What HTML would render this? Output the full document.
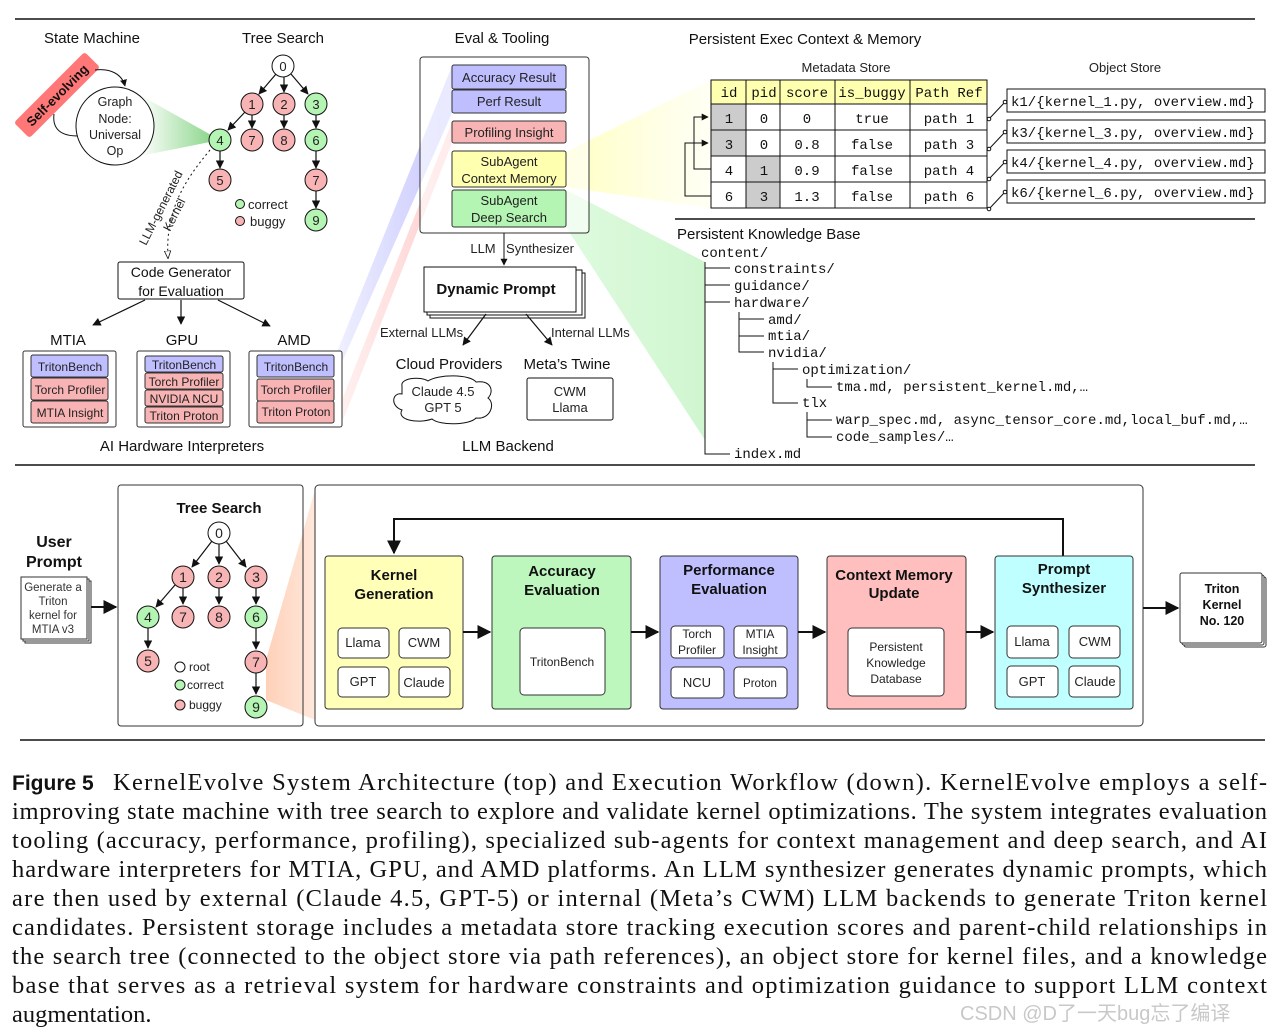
<!DOCTYPE html>
<html><head><meta charset="utf-8"><style>
html,body{margin:0;padding:0;background:#fff;width:1283px;height:1032px;overflow:hidden}
svg{display:block}
.s{font-family:"Liberation Sans",sans-serif}
.m{font-family:"Liberation Mono",monospace}
.c{font-family:"Liberation Serif",serif;font-size:24.5px;fill:#111}
</style></head><body>
<svg width="1283" height="1032" viewBox="0 0 1283 1032" xmlns="http://www.w3.org/2000/svg">
<defs>
<marker id="a" viewBox="0 0 10 10" refX="9" refY="5" markerWidth="7" markerHeight="7" orient="auto"><path d="M0,0L10,5L0,10z" fill="#111"/></marker>
<marker id="ao" viewBox="0 0 10 10" refX="9" refY="5" markerWidth="8" markerHeight="8" orient="auto"><path d="M0,1L10,5L0,9z" fill="#fff" stroke="#111"/></marker>
<linearGradient id="gg" x1="0" x2="1"><stop offset="0" stop-color="#fff"/><stop offset="1" stop-color="#5fc65f"/></linearGradient>
<linearGradient id="gy" x1="0" x2="1"><stop offset="0" stop-color="#ffff99"/><stop offset="1" stop-color="#ffffe0" stop-opacity=".6"/></linearGradient>
<linearGradient id="gG" x1="0" x2="1"><stop offset="0" stop-color="#c8f7c8"/><stop offset="1" stop-color="#b0f0b0"/></linearGradient>
<linearGradient id="gb" x1="1" x2="0"><stop offset="0" stop-color="#c0c0ff"/><stop offset="1" stop-color="#eef" /></linearGradient>
<linearGradient id="gr" x1="1" x2="0"><stop offset="0" stop-color="#ffc8c8"/><stop offset="1" stop-color="#fff0f0"/></linearGradient>
<linearGradient id="go" x1="0" x2="1"><stop offset="0" stop-color="#ffd0b8"/><stop offset="1" stop-color="#ffe8dc"/></linearGradient>
</defs>
<g stroke="#111" stroke-width="1.5"><line x1="15" y1="19" x2="1255" y2="19"/><line x1="15" y1="465" x2="1255" y2="465"/><line x1="20" y1="740" x2="1265" y2="740"/><line x1="675" y1="219" x2="1255" y2="219"/></g>

<!-- wedges -->
<polygon points="452,66 452,113 343,360 337,352" fill="url(#gb)" opacity=".9"/>
<polygon points="452,122 452,143 343,420 338,410" fill="url(#gr)" opacity=".9"/>
<polygon points="566,152 566,187 711,208 711,80" fill="url(#gy)" opacity=".6"/>
<polygon points="566,190 566,227 705,440 705,262" fill="url(#gG)" opacity=".6"/>
<polygon points="140,95 140,156 220,140" fill="url(#gg)" opacity=".8"/>
<polygon points="266,660 266,700 315,720 315,490" fill="url(#go)"/>

<g class="s" font-size="15" fill="#111" text-anchor="middle">
<text x="92" y="43">State Machine</text><text x="283" y="43">Tree Search</text><text x="502" y="43">Eval &amp; Tooling</text>
<text x="805" y="44">Persistent Exec Context &amp; Memory</text>
</g>
<!-- state machine -->
<g transform="translate(57,95) rotate(-45)"><rect x="-50" y="-11" width="100" height="22" rx="3" fill="#f77"/><text x="0" y="5" class="s" font-size="13" font-weight="bold" fill="#111" text-anchor="middle">Self-evolving</text></g>
<path d="M95,70 C110,68 122,74 125,86" fill="none" stroke="#111" marker-end="url(#a)"/>
<path d="M54,114 C52,130 62,136 78,136" fill="none" stroke="#111"/>
<circle cx="115" cy="126" r="39" fill="#fff" stroke="#111"/>
<g class="s" font-size="12.5" fill="#222" text-anchor="middle"><text x="115" y="106">Graph</text><text x="115" y="123">Node:</text><text x="115" y="139">Universal</text><text x="115" y="155">Op</text></g>

<!-- top tree -->
<g stroke="#111" stroke-width="1.2" marker-end="url(#a)">
<line x1="276" y1="74" x2="259" y2="94"/><line x1="284" y1="77" x2="284" y2="92"/><line x1="291" y1="74" x2="308" y2="94"/>
<line x1="245" y1="112" x2="228" y2="130"/><line x1="252" y1="115" x2="252" y2="128"/><line x1="284" y1="115" x2="284" y2="128"/><line x1="316" y1="115" x2="316" y2="128"/>
<line x1="220" y1="151" x2="220" y2="168"/><line x1="316" y1="151" x2="316" y2="168"/><line x1="316" y1="191" x2="316" y2="208"/>
</g>
<g stroke="#111" class="s" font-size="13">
<circle cx="283" cy="66" r="11" fill="#fff"/><circle cx="252" cy="104" r="11" fill="#f8b4b4"/><circle cx="284" cy="104" r="11" fill="#f8b4b4"/><circle cx="316" cy="104" r="11" fill="#b4f5b4"/>
<circle cx="220" cy="140" r="11" fill="#b4f5b4"/><circle cx="252" cy="140" r="11" fill="#f8b4b4"/><circle cx="284" cy="140" r="11" fill="#f8b4b4"/><circle cx="316" cy="140" r="11" fill="#b4f5b4"/>
<circle cx="220" cy="180" r="11" fill="#f8b4b4"/><circle cx="316" cy="180" r="11" fill="#f8b4b4"/><circle cx="316" cy="220" r="11" fill="#b4f5b4"/>
<circle cx="240" cy="204" r="4.5" fill="#b4f5b4"/><circle cx="240" cy="221" r="4.5" fill="#f8b4b4"/>
</g>
<g class="s" font-size="13" fill="#222" text-anchor="middle">
<text x="283" y="71">0</text><text x="252" y="109">1</text><text x="284" y="109">2</text><text x="316" y="109">3</text><text x="220" y="145">4</text><text x="252" y="145">7</text><text x="284" y="145">8</text><text x="316" y="145">6</text><text x="220" y="185">5</text><text x="316" y="185">7</text><text x="316" y="225">9</text>
</g>
<g class="s" font-size="13" fill="#222"><text x="248" y="209">correct</text><text x="250" y="226">buggy</text></g>
<path d="M210,150 C185,180 165,210 168,258" fill="none" stroke="#111" stroke-dasharray="2,3" marker-end="url(#ao)"/>
<g class="s" font-size="12" fill="#222"><text transform="translate(146,246) rotate(-63)">LLM-generated</text><text transform="translate(170,232) rotate(-63)">Kernel</text></g>

<!-- code generator -->
<rect x="118" y="262" width="126" height="37" rx="2" fill="#fff" stroke="#111"/>
<g class="s" font-size="14" fill="#111" text-anchor="middle"><text x="181" y="277">Code Generator</text><text x="181" y="296">for Evaluation</text>
<text x="68" y="345" font-size="15">MTIA</text><text x="182" y="345" font-size="15">GPU</text><text x="294" y="345" font-size="15">AMD</text>
<text x="182" y="451" font-size="15">AI Hardware Interpreters</text></g>
<g stroke="#111" stroke-width="1.2" marker-end="url(#a)"><line x1="145" y1="300" x2="93" y2="325"/><line x1="181" y1="300" x2="181" y2="324"/><line x1="218" y1="300" x2="270" y2="326"/></g>
<g stroke="#333" stroke-width="1">
<rect x="23" y="351" width="93" height="76" rx="2" fill="#fff"/><rect x="137" y="351" width="93" height="76" rx="2" fill="#fff"/><rect x="249" y="351" width="93" height="76" rx="2" fill="#fff"/>
<rect x="31" y="355" width="77" height="22" rx="2" fill="#bfbfff"/><rect x="31" y="378" width="77" height="22" rx="2" fill="#f8b4b4"/><rect x="31" y="401" width="77" height="22" rx="2" fill="#f8b4b4"/>
<rect x="145" y="356" width="78" height="16" rx="2" fill="#bfbfff"/><rect x="145" y="373" width="78" height="16" rx="2" fill="#f8b4b4"/><rect x="145" y="390" width="78" height="16" rx="2" fill="#f8b4b4"/><rect x="145" y="407" width="78" height="16" rx="2" fill="#f8b4b4"/>
<rect x="257" y="355" width="77" height="22" rx="2" fill="#bfbfff"/><rect x="257" y="379" width="77" height="22" rx="2" fill="#f8b4b4"/><rect x="257" y="401" width="77" height="22" rx="2" fill="#f8b4b4"/>
</g>
<g class="s" font-size="12" fill="#222" text-anchor="middle">
<text x="70" y="371">TritonBench</text><text x="70" y="394">Torch Profiler</text><text x="70" y="417">MTIA Insight</text>
<text x="184" y="369">TritonBench</text><text x="184" y="386">Torch Profiler</text><text x="184" y="403">NVIDIA NCU</text><text x="184" y="420">Triton Proton</text>
<text x="296" y="371">TritonBench</text><text x="296" y="394">Torch Profiler</text><text x="296" y="416">Triton Proton</text>
</g>

<!-- eval box -->
<rect x="420" y="57" width="169" height="176" rx="3" fill="#fff" fill-opacity=".6" stroke="#333"/>
<g stroke="#333">
<rect x="452" y="65" width="114" height="24" rx="2" fill="#bfbfff"/><rect x="452" y="90" width="114" height="23" rx="2" fill="#bfbfff"/>
<rect x="452" y="121" width="114" height="22" rx="2" fill="#f8b4b4"/><rect x="452" y="151" width="114" height="36" rx="2" fill="#ffffb0"/><rect x="452" y="190" width="114" height="37" rx="2" fill="#b4f5b4"/>
</g>
<g class="s" font-size="13" fill="#222" text-anchor="middle">
<text x="509" y="82">Accuracy Result</text><text x="509" y="106">Perf Result</text><text x="509" y="137">Profiling Insight</text>
<text x="509" y="166">SubAgent</text><text x="509" y="183">Context Memory</text><text x="509" y="205">SubAgent</text><text x="509" y="222">Deep Search</text>
<text x="483" y="253">LLM</text><text x="540" y="253">Synthesizer</text>
</g>
<line x1="504" y1="233" x2="504" y2="265" stroke="#111" marker-end="url(#a)"/>
<rect x="430" y="273" width="155" height="45" fill="#fff" stroke="#111"/><rect x="427" y="270" width="155" height="45" fill="#fff" stroke="#111"/><rect x="424" y="267" width="152" height="45" fill="#fff" stroke="#111"/>
<text x="496" y="294" class="s" font-size="15" font-weight="bold" fill="#111" text-anchor="middle">Dynamic Prompt</text>
<g stroke="#111" stroke-width="1.2" marker-end="url(#a)"><line x1="486" y1="314" x2="463" y2="345"/><line x1="526" y1="314" x2="552" y2="345"/></g>
<g class="s" font-size="13" fill="#222"><text x="380" y="337">External LLMs</text><text x="551" y="337">Internal LLMs</text></g>
<g class="s" font-size="15" fill="#111" text-anchor="middle"><text x="449" y="369">Cloud Providers</text><text x="567" y="369">Meta’s Twine</text><text x="508" y="451">LLM Backend</text></g>
<path d="M402,386 C400,378 420,376 428,381 C438,374 470,374 476,382 C492,380 494,392 488,398 C496,404 490,420 476,418 C470,425 440,426 432,419 C418,424 396,420 402,410 C390,406 392,392 402,394 Z" fill="#fff" stroke="#111"/>
<rect x="527" y="378" width="86" height="42" rx="2" fill="#fff" stroke="#111"/>
<g class="s" font-size="13" fill="#222" text-anchor="middle"><text x="443" y="396">Claude 4.5</text><text x="443" y="412">GPT 5</text><text x="570" y="396">CWM</text><text x="570" y="412">Llama</text></g>

<!-- metadata table -->
<g class="s" font-size="13" fill="#222" text-anchor="middle"><text x="846" y="72">Metadata Store</text><text x="1125" y="72">Object Store</text></g>
<rect x="711" y="80" width="276" height="24" fill="#ffffb0"/>
<rect x="711" y="104" width="35" height="52" fill="#ccc"/><rect x="746" y="156" width="34" height="52" fill="#ccc"/>
<g stroke="#111" fill="none"><rect x="711" y="80" width="276" height="128"/>
<line x1="711" y1="104" x2="987" y2="104"/><line x1="711" y1="130" x2="987" y2="130"/><line x1="711" y1="156" x2="987" y2="156"/><line x1="711" y1="182" x2="987" y2="182"/>
<line x1="746" y1="80" x2="746" y2="208"/><line x1="780" y1="80" x2="780" y2="208"/><line x1="835" y1="80" x2="835" y2="208"/><line x1="910" y1="80" x2="910" y2="208"/></g>
<g class="m" font-size="14" fill="#111" text-anchor="middle">
<text x="729" y="97">id</text><text x="764" y="97">pid</text><text x="807" y="97">score</text><text x="872" y="97">is_buggy</text><text x="949" y="97">Path Ref</text>
<text x="729" y="123">1</text><text x="764" y="123">0</text><text x="807" y="123">0</text><text x="872" y="123">true</text><text x="949" y="123">path 1</text>
<text x="729" y="149">3</text><text x="764" y="149">0</text><text x="807" y="149">0.8</text><text x="872" y="149">false</text><text x="949" y="149">path 3</text>
<text x="729" y="175">4</text><text x="764" y="175">1</text><text x="807" y="175">0.9</text><text x="872" y="175">false</text><text x="949" y="175">path 4</text>
<text x="729" y="201">6</text><text x="764" y="201">3</text><text x="807" y="201">1.3</text><text x="872" y="201">false</text><text x="949" y="201">path 6</text>
</g>
<g stroke="#111" fill="none"><path d="M711,169 H694 V117 H708" marker-end="url(#a)"/><path d="M711,196 H685 V143 H708" marker-end="url(#a)"/></g>
<g stroke="#111" fill="#fff">
<rect x="1007" y="89" width="258" height="23"/><rect x="1007" y="120" width="258" height="23"/><rect x="1007" y="150" width="258" height="23"/><rect x="1007" y="180" width="258" height="23"/>
<path d="M989,119 L1005,102" fill="none"/><path d="M989,149 L1005,132" fill="none"/><path d="M989,179 L1005,162" fill="none"/><path d="M989,209 L1005,192" fill="none"/>
<circle cx="989" cy="119" r="1.8"/><circle cx="1005" cy="102" r="1.8"/><circle cx="989" cy="149" r="1.8"/><circle cx="1005" cy="132" r="1.8"/><circle cx="989" cy="179" r="1.8"/><circle cx="1005" cy="162" r="1.8"/><circle cx="989" cy="209" r="1.8"/><circle cx="1005" cy="192" r="1.8"/>
</g>
<g class="m" font-size="14" fill="#111"><text x="1011" y="106">k1/{kernel_1.py, overview.md}</text><text x="1011" y="137">k3/{kernel_3.py, overview.md}</text><text x="1011" y="167">k4/{kernel_4.py, overview.md}</text><text x="1011" y="197">k6/{kernel_6.py, overview.md}</text></g>

<!-- knowledge base -->
<text x="677" y="239" class="s" font-size="15" fill="#111">Persistent Knowledge Base</text>
<g class="m" font-size="14" fill="#111">
<text x="701" y="257">content/</text><text x="734" y="273">constraints/</text><text x="734" y="290">guidance/</text><text x="734" y="307">hardware/</text>
<text x="768" y="324">amd/</text><text x="768" y="340">mtia/</text><text x="768" y="357">nvidia/</text>
<text x="802" y="374">optimization/</text><text x="836" y="391">tma.md, persistent_kernel.md,…</text><text x="802" y="407">tlx</text>
<text x="836" y="424">warp_spec.md, async_tensor_core.md,local_buf.md,…</text><text x="836" y="441">code_samples/…</text><text x="734" y="458">index.md</text>
</g>
<g stroke="#111" fill="none">
<path d="M705,262 V454 H730 M705,268 H730 M705,285 H730 M705,302 H730"/>
<path d="M739,312 V352 H764 M739,319 H764 M739,336 H764"/>
<path d="M773,362 V403 H798 M773,369 H798"/>
<path d="M807,379 V387 H832"/>
<path d="M807,412 V437 H832 M807,420 H832"/>
</g>

<!-- bottom -->
<g class="s" font-size="16" font-weight="bold" fill="#111" text-anchor="middle"><text x="54" y="547">User</text><text x="54" y="567">Prompt</text></g>
<rect x="25" y="581" width="66" height="62" fill="#fff" stroke="#333"/><rect x="23" y="579" width="66" height="62" fill="#fff" stroke="#333"/><rect x="21" y="577" width="66" height="62" fill="#fff" stroke="#333"/>
<g class="s" font-size="11.5" fill="#333" text-anchor="middle"><text x="53" y="591">Generate a</text><text x="53" y="605">Triton</text><text x="53" y="619">kernel  for</text><text x="53" y="633">MTIA v3</text></g>
<line x1="91" y1="607" x2="116" y2="607" stroke="#111" stroke-width="2" marker-end="url(#a)"/>
<rect x="118" y="485" width="185" height="241" rx="3" fill="#fff" fill-opacity="0" stroke="#333"/>
<text x="219" y="513" class="s" font-size="15" font-weight="bold" fill="#111" text-anchor="middle">Tree Search</text>
<g stroke="#111" stroke-width="1.2" marker-end="url(#a)">
<line x1="212" y1="541" x2="192" y2="567"/><line x1="219" y1="544" x2="219" y2="564"/><line x1="226" y1="541" x2="246" y2="567"/>
<line x1="175" y1="585" x2="156" y2="607"/><line x1="183" y1="588" x2="183" y2="604"/><line x1="219" y1="588" x2="219" y2="604"/><line x1="256" y1="588" x2="256" y2="604"/>
<line x1="148" y1="628" x2="148" y2="648"/><line x1="256" y1="628" x2="256" y2="649"/><line x1="256" y1="673" x2="256" y2="694"/>
</g>
<g stroke="#111">
<circle cx="219" cy="533" r="11" fill="#fff"/><circle cx="183" cy="577" r="11" fill="#f8b4b4"/><circle cx="219" cy="577" r="11" fill="#f8b4b4"/><circle cx="256" cy="577" r="11" fill="#f8b4b4"/>
<circle cx="148" cy="617" r="11" fill="#b4f5b4"/><circle cx="183" cy="617" r="11" fill="#f8b4b4"/><circle cx="219" cy="617" r="11" fill="#f8b4b4"/><circle cx="256" cy="617" r="11" fill="#b4f5b4"/>
<circle cx="148" cy="661" r="11" fill="#f8b4b4"/><circle cx="256" cy="662" r="11" fill="#f8b4b4"/><circle cx="256" cy="707" r="11" fill="#b4f5b4"/>
<circle cx="180" cy="667" r="5" fill="#fff"/><circle cx="180" cy="685" r="5" fill="#b4f5b4"/><circle cx="180" cy="705" r="5" fill="#f8b4b4"/>
</g>
<g class="s" font-size="14" fill="#222" text-anchor="middle">
<text x="219" y="538">0</text><text x="183" y="582">1</text><text x="219" y="582">2</text><text x="256" y="582">3</text><text x="148" y="622">4</text><text x="183" y="622">7</text><text x="219" y="622">8</text><text x="256" y="622">6</text><text x="148" y="666">5</text><text x="256" y="667">7</text><text x="256" y="712">9</text>
</g>
<g class="s" font-size="12" fill="#222"><text x="189" y="671">root</text><text x="187" y="689">correct</text><text x="189" y="709">buggy</text></g>

<rect x="315" y="485" width="828" height="241" rx="4" fill="#fff" stroke="#333"/>
<path d="M1063,556 V519 H394 V553" fill="none" stroke="#111" stroke-width="2" marker-end="url(#a)"/>
<g stroke="#333">
<rect x="325" y="556" width="138" height="153" rx="3" fill="#ffffb8"/><rect x="492" y="556" width="139" height="153" rx="3" fill="#bdf7bd"/><rect x="660" y="556" width="138" height="153" rx="3" fill="#bfbfff"/><rect x="827" y="556" width="139" height="153" rx="3" fill="#ffbfbf"/><rect x="995" y="556" width="138" height="153" rx="3" fill="#bfffff"/>
</g>
<g stroke="#111" stroke-width="2" marker-end="url(#a)"><line x1="463" y1="632" x2="490" y2="632"/><line x1="631" y1="632" x2="658" y2="632"/><line x1="798" y1="632" x2="825" y2="632"/><line x1="966" y1="632" x2="993" y2="632"/><line x1="1143" y1="608" x2="1178" y2="608"/></g>
<g class="s" font-size="15" font-weight="bold" fill="#111" text-anchor="middle">
<text x="394" y="580">Kernel</text><text x="394" y="599">Generation</text><text x="562" y="576">Accuracy</text><text x="562" y="595">Evaluation</text>
<text x="729" y="575">Performance</text><text x="729" y="594">Evaluation</text><text x="894" y="580">Context Memory</text><text x="894" y="598">Update</text>
<text x="1064" y="574">Prompt</text><text x="1064" y="593">Synthesizer</text>
</g>
<g stroke="#333" fill="#fff">
<rect x="338" y="628" width="51" height="30" rx="4"/><rect x="399" y="628" width="51" height="30" rx="4"/><rect x="338" y="667" width="51" height="30" rx="4"/><rect x="399" y="667" width="51" height="30" rx="4"/>
<rect x="520" y="628" width="85" height="67" rx="4"/>
<rect x="671" y="626" width="53" height="32" rx="4"/><rect x="734" y="626" width="53" height="32" rx="4"/><rect x="671" y="667" width="53" height="31" rx="4"/><rect x="734" y="667" width="53" height="31" rx="4"/>
<rect x="848" y="628" width="96" height="68" rx="4"/>
<rect x="1007" y="626" width="51" height="32" rx="4"/><rect x="1069" y="626" width="51" height="32" rx="4"/><rect x="1007" y="666" width="51" height="31" rx="4"/><rect x="1069" y="666" width="51" height="31" rx="4"/>
</g>
<g class="s" font-size="13" fill="#222" text-anchor="middle">
<text x="363" y="647">Llama</text><text x="424" y="647">CWM</text><text x="363" y="686">GPT</text><text x="424" y="687">Claude</text>
<text x="562" y="666" font-size="12">TritonBench</text>
<text x="697" y="638" font-size="12">Torch</text><text x="697" y="654" font-size="12">Profiler</text><text x="760" y="638" font-size="12">MTIA</text><text x="760" y="654" font-size="12">Insight</text>
<text x="697" y="687">NCU</text><text x="760" y="687" font-size="11.5">Proton</text>
<text x="896" y="651" font-size="12">Persistent</text><text x="896" y="667" font-size="12">Knowledge</text><text x="896" y="683" font-size="12">Database</text>
<text x="1032" y="646">Llama</text><text x="1095" y="646">CWM</text><text x="1032" y="686">GPT</text><text x="1095" y="686">Claude</text>
</g>
<rect x="1184" y="577" width="82" height="70" rx="2" fill="#fff" stroke="#333"/><rect x="1182" y="575" width="82" height="70" rx="2" fill="#fff" stroke="#333"/><rect x="1180" y="573" width="82" height="70" rx="2" fill="#fff" stroke="#333"/>
<g class="s" font-size="12.5" font-weight="bold" fill="#111" text-anchor="middle"><text x="1222" y="593">Triton</text><text x="1222" y="609">Kernel</text><text x="1222" y="625">No. 120</text></g>

<!-- caption -->
<text x="12" y="790" class="s" font-size="21" font-weight="bold" fill="#111">Figure 5</text>
<text x="113" y="790" class="c" textLength="1154" lengthAdjust="spacing">KernelEvolve System Architecture (top) and Execution Workflow (down).  KernelEvolve employs a self-</text>
<text x="12" y="819" class="c" textLength="1255" lengthAdjust="spacing">improving state machine with tree search to explore and validate kernel optimizations. The system integrates evaluation</text>
<text x="12" y="848" class="c" textLength="1255" lengthAdjust="spacing">tooling (accuracy, performance, profiling), specialized sub-agents for context management and deep search, and AI</text>
<text x="12" y="877" class="c" textLength="1255" lengthAdjust="spacing">hardware interpreters for MTIA, GPU, and AMD platforms. An LLM synthesizer generates dynamic prompts, which</text>
<text x="12" y="906" class="c" textLength="1255" lengthAdjust="spacing">are then used by external (Claude 4.5, GPT-5) or internal (Meta’s CWM) LLM backends to generate Triton kernel</text>
<text x="12" y="935" class="c" textLength="1255" lengthAdjust="spacing">candidates. Persistent storage includes a metadata store tracking execution scores and parent-child relationships in</text>
<text x="12" y="964" class="c" textLength="1255" lengthAdjust="spacing">the search tree (connected to the object store via path references), an object store for kernel files, and a knowledge</text>
<text x="12" y="993" class="c" textLength="1255" lengthAdjust="spacing">base that serves as a retrieval system for hardware constraints and optimization guidance to support LLM context</text>
<text x="12" y="1022" class="c">augmentation.</text>
<text x="960" y="1020" font-family="'Liberation Sans','Noto Sans CJK SC',sans-serif" font-size="20" fill="#bbb" opacity=".8">CSDN @D了一天bug忘了编译</text>
</svg>
</body></html>
